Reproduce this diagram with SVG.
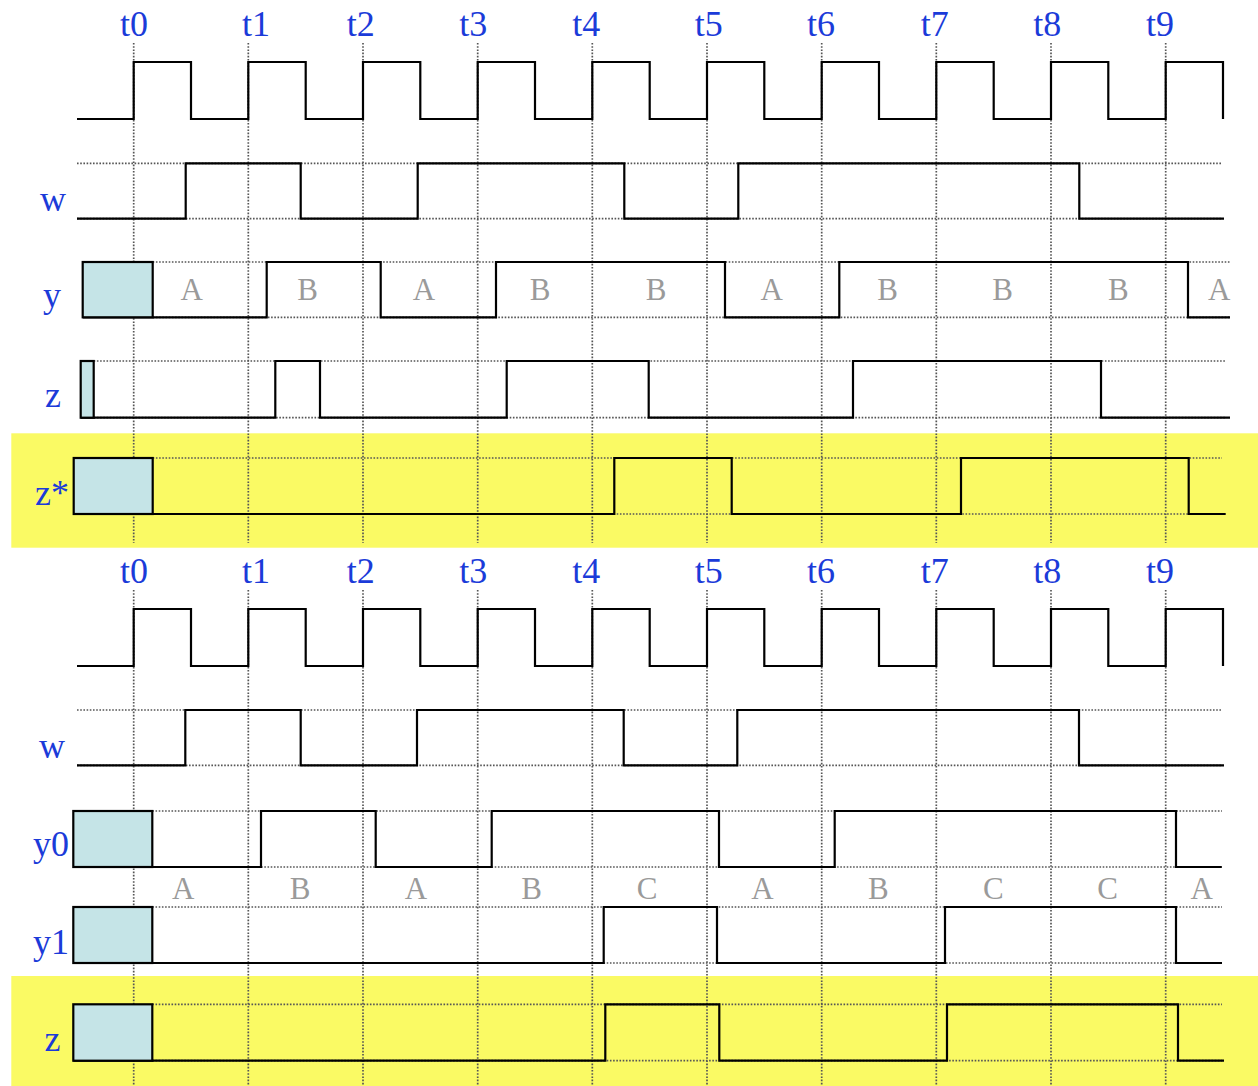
<svg xmlns="http://www.w3.org/2000/svg" xmlns:xlink="http://www.w3.org/1999/xlink" width="1258" height="1086" viewBox="0 0 1258 1086">
<style>
.band{fill:#fafa64}
.grid{fill:none;stroke:#555;stroke-width:1.7;stroke-dasharray:1.6,1.6}
.sig{fill:none;stroke:#000;stroke-width:2.2;stroke-linejoin:miter}
.box{fill:#c5e4e7;stroke:#000;stroke-width:2.2}
.tl{font-family:"Liberation Serif","Times New Roman",serif;font-size:36px;fill:#1b3bd9}
.st{font-family:"Liberation Serif","Times New Roman",serif;font-size:31px;fill:#9a9a9a;text-anchor:middle}
</style>
<defs>
<path id="clk" class="sig" d="M77,119 H133.7 V62 H191 V119 H248.3 V62 H305.7 V119 H363 V62 H420.3 V119 H477.7 V62 H535 V119 H592.3 V62 H649.7 V119 H707 V62 H764.3 V119 H821.7 V62 H879 V119 H936.3 V62 H993.7 V119 H1051 V62 H1108.3 V119 H1165.7 V62 H1223 V119"/>
<path id="vgrid" class="grid" d="M133.7,43 V543 M248.3,43 V543 M363,43 V543 M477.7,43 V543 M592.3,43 V543 M707,43 V543 M821.7,43 V543 M936.3,43 V543 M1051,43 V543 M1165.7,43 V543"/>
<g id="tlabels" class="tl">
<text x="120" y="35.5">t0</text><text x="242" y="35.5">t1</text><text x="346.7" y="35.5">t2</text><text x="459.3" y="35.5">t3</text><text x="572.3" y="35.5">t4</text><text x="694.7" y="35.5">t5</text><text x="807" y="35.5">t6</text><text x="920.7" y="35.5">t7</text><text x="1033.3" y="35.5">t8</text><text x="1146" y="35.5">t9</text>
</g>
</defs>
<rect class="band" x="11.3" y="433.3" width="1246.7" height="114.4"/>
<rect class="band" x="11.3" y="976" width="1246.7" height="110"/>
<g id="grid">
<use xlink:href="#vgrid"/>
<use xlink:href="#vgrid" transform="translate(0,547)"/>
<path class="grid" d="M77,163.3 H1222 M77,218.7 H1222 M152.7,262 H1230 M152.7,317.3 H1230 M93.7,361 H1225 M93.7,417.7 H1225 M152.7,458 H1222 M152.7,514 H1222 M77,710 H1222 M77,765.3 H1222 M152.3,811 H1222 M152.3,867 H1222 M152.3,907 H1222 M152.3,963 H1222 M152.3,1004.3 H1222 M152.3,1060.7 H1222"/>
</g>
<g id="t-labels">
<use xlink:href="#tlabels"/>
<use xlink:href="#tlabels" transform="translate(0,547)"/>
</g>
<g id="connectors">
<use xlink:href="#clk"/>
<use xlink:href="#clk" transform="translate(0,547)"/>
<path class="sig" d="M77,218.7 H185.7 V163.3 H300.7 V218.7 H417.7 V163.3 H624.3 V218.7 H738.3 V163.3 H1079.3 V218.7 H1224"/>
<path class="sig" d="M82.7,317.3 H266.7 V262 H380.7 V317.3 H496 V262 H725 V317.3 H839.3 V262 H1188 V317.3 H1230"/>
<path class="sig" d="M80.7,417.7 H275.3 V361 H320 V417.7 H506.7 V361 H648.7 V417.7 H853 V361 H1101 V417.7 H1230"/>
<path class="sig" d="M73.7,514 H614.3 V458 H731.7 V514 H961 V458 H1188.7 V514 H1225.7"/>
<path class="sig" d="M77,765.3 H185.3 V710 H300.7 V765.3 H417 V710 H623.7 V765.3 H737.3 V710 H1079 V765.3 H1224"/>
<path class="sig" d="M73.3,867 H261 V811 H375.7 V867 H491.7 V811 H719 V867 H834.7 V811 H1176 V867 H1221.7"/>
<path class="sig" d="M73.3,963 H603.7 V907 H717 V963 H945 V907 H1176 V963 H1222"/>
<path class="sig" d="M73.3,1060.7 H605.3 V1004.3 H719.3 V1060.7 H947 V1004.3 H1178 V1060.7 H1224"/>
</g>
<g id="node-y-init"><rect class="box" x="82.7" y="262" width="70" height="55.3"/></g>
<g id="node-z-init"><rect class="box" x="80.7" y="361" width="13" height="56.7"/></g>
<g id="node-zs-init"><rect class="box" x="73.7" y="458" width="79" height="56"/></g>
<g id="node-y0-init"><rect class="box" x="73.3" y="811" width="79" height="56"/></g>
<g id="node-y1-init"><rect class="box" x="73.3" y="907" width="79" height="56"/></g>
<g id="node-z2-init"><rect class="box" x="73.3" y="1004.3" width="79" height="56.4"/></g>
<g id="signal-names" class="tl">
<text x="40" y="211">w</text>
<text x="43" y="307">y</text>
<text x="45" y="407">z</text>
<text x="35" y="505">z*</text>
<text x="39" y="758">w</text>
<text x="33" y="856">y0</text>
<text x="33" y="954">y1</text>
<text x="44.5" y="1051">z</text>
</g>
<g id="state-top" class="st">
<text x="191.7" y="299.5">A</text><text x="307.7" y="299.5">B</text><text x="424" y="299.5">A</text><text x="540" y="299.5">B</text><text x="656" y="299.5">B</text><text x="771.7" y="299.5">A</text><text x="887.7" y="299.5">B</text><text x="1002.7" y="299.5">B</text><text x="1118.3" y="299.5">B</text><text x="1219.3" y="299.5">A</text>
</g>
<g id="state-bottom" class="st">
<text x="183.3" y="899">A</text><text x="300" y="899">B</text><text x="416" y="899">A</text><text x="531.7" y="899">B</text><text x="647" y="899">C</text><text x="762.5" y="899">A</text><text x="878.3" y="899">B</text><text x="993.3" y="899">C</text><text x="1107.7" y="899">C</text><text x="1201.7" y="899">A</text>
</g>
</svg>
